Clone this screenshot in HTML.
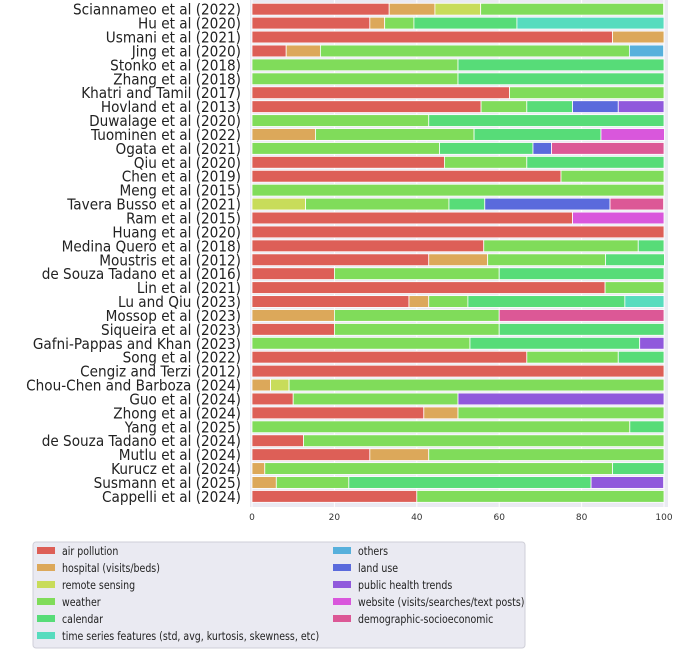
<!DOCTYPE html>
<html><head><meta charset="utf-8">
<style>
html,body{margin:0;padding:0;background:#fff;}
svg{display:block;font-family:"DejaVu Sans","Liberation Sans",sans-serif;}
</style></head>
<body>
<svg id="chart" width="685" height="649" viewBox="0 0 685 649">
<rect x="250" y="0" width="418" height="507" fill="#eaeaf2"/>
<g id="grid"></g><g id="bars"></g><g id="ylabels" transform="translate(241,0) scale(0.88,1) translate(-241,0)"></g><g id="xticks"></g>
<g id="legend">
<rect x="33" y="542" width="492" height="106" rx="3" fill="#eaeaf2" stroke="#cfcfd8" stroke-width="1"/>
</g>
</svg>
<script>
const studies = ["Sciannameo et al (2022)","Hu et al (2020)","Usmani et al (2021)","Jing et al (2020)","Stonko et al (2018)","Zhang et al (2018)","Khatri and Tamil (2017)","Hovland et al (2013)","Duwalage et al (2020)","Tuominen et al (2022)","Ogata et al (2021)","Qiu et al (2020)","Chen et al (2019)","Meng et al (2015)","Tavera Busso et al (2021)","Ram et al (2015)","Huang et al (2020)","Medina Quero et al (2018)","Moustris et al (2012)","de Souza Tadano et al (2016)","Lin et al (2021)","Lu and Qiu (2023)","Mossop et al (2023)","Siqueira et al (2023)","Gafni-Pappas and Khan (2023)","Song et al (2022)","Cengiz and Terzi (2012)","Chou-Chen and Barboza (2024)","Guo et al (2024)","Zhong et al (2024)","Yang et al (2025)","de Souza Tadano et al (2024)","Mutlu et al (2024)","Kurucz et al (2024)","Susmann et al (2025)","Cappelli et al (2024)"];
const categories = ["air pollution","hospital (visits/beds)","remote sensing","weather","calendar","time series features (std, avg, kurtosis, skewness, etc)","others","land use","public health trends","website (visits/searches/text posts)","demographic-socioeconomic"];
const colors = ["#dd5f57","#dca85a","#c8dc5a","#80dc5a","#57dc78","#57dcbe","#57b0dc","#5a6adc","#9059dc","#d957dc","#dc5896"];
const airPollution = [33.3,28.6,87.5,8.3,0,0,62.5,55.6,0,0,0,46.7,75,0,0,77.8,100,56.25,42.9,20,85.7,38.1,0,20,0,66.7,100,0,10,41.7,0,12.5,28.6,0,0,40];
const hospital = [11.1,3.6,12.5,8.3,0,0,0,0,0,15.4,0,0,0,0,0,0,0,0,14.3,0,0,4.8,20,0,0,0,0,4.5,0,8.3,0,0,14.3,3.1,5.9,0];
const remoteSensing = [11.1,0,0,0,0,0,0,0,0,0,0,0,0,0,13,0,0,0,0,0,0,0,0,0,0,0,0,4.5,0,0,0,0,0,0,0,0];
const weather = [44.4,7.1,0,75,50,50,37.5,11.1,42.9,38.5,45.5,20,25,100,34.8,0,0,37.5,28.6,40,14.3,9.5,40,40,52.9,22.2,0,91,40,50,91.7,87.5,57.1,84.4,17.6,60];
const calendar = [0,25,0,0,50,50,0,11.1,57.1,30.8,22.7,33.3,0,0,8.7,0,0,6.25,14.3,40,0,38.1,0,40,41.2,11.1,0,0,0,0,8.3,0,0,12.5,58.8,0];
const timeSeries = [0,35.7,0,0,0,0,0,0,0,0,0,0,0,0,0,0,0,0,0,0,0,9.5,0,0,0,0,0,0,0,0,0,0,0,0,0,0];
const others = [0,0,0,8.3,0,0,0,0,0,0,0,0,0,0,0,0,0,0,0,0,0,0,0,0,0,0,0,0,0,0,0,0,0,0,0,0];
const landUse = [0,0,0,0,0,0,0,11.1,0,0,4.5,0,0,0,30.4,0,0,0,0,0,0,0,0,0,0,0,0,0,0,0,0,0,0,0,0,0];
const publicHealth = [0,0,0,0,0,0,0,11.1,0,0,0,0,0,0,0,0,0,0,0,0,0,0,0,0,5.9,0,0,0,50,0,0,0,0,0,17.6,0];
const website = [0,0,0,0,0,0,0,0,0,15.4,0,0,0,0,0,22.2,0,0,0,0,0,0,0,0,0,0,0,0,0,0,0,0,0,0,0,0];
const demographic = [0,0,0,0,0,0,0,0,0,0,27.3,0,0,0,13,0,0,0,0,0,0,0,40,0,0,0,0,0,0,0,0,0,0,0,0,0];
const series = [airPollution,hospital,remoteSensing,weather,calendar,timeSeries,others,landUse,publicHealth,website,demographic];
const xTicks = [0,20,40,60,80,100];

const NS="http://www.w3.org/2000/svg";
const x0=252,x1=664,rowTop=3.3,pitch=13.92,barH=11.8;
const xs=v=>x0+(x1-x0)*v/100;
const ys=i=>rowTop+i*pitch;
function mk(tag,attrs,parent){const e=document.createElementNS(NS,tag);for(const k in attrs)e.setAttribute(k,attrs[k]);parent.appendChild(e);return e;}
const grid=document.getElementById('grid'),bars=document.getElementById('bars'),yl=document.getElementById('ylabels'),xt=document.getElementById('xticks'),lg=document.getElementById('legend');
xTicks.forEach(t=>{
  const l=mk('line',{x1:xs(t),x2:xs(t),y1:0,y2:507,stroke:'#fff','stroke-width':1},grid);
  
  
  const tx=mk('text',{x:xs(t),y:520,'font-size':9,'text-anchor':'middle',fill:'#333'},xt);
  tx.textContent=t;
  
  
});
studies.forEach((s,i)=>{
  let cum=0;
  series.forEach((arr,c)=>{
    const v=arr[i];
    if(v>0){
      const r=mk('rect',{x:xs(cum),y:ys(i),width:xs(cum+v)-xs(cum),height:barH,fill:colors[c],stroke:'#fff','stroke-width':0.8},bars);
      
      
    }
    cum+=v;
  });
  const t=mk('text',{x:241,y:ys(i)+barH/2+5.5,'font-size':15.5,'text-anchor':'end',fill:'#222'},yl);
  t.textContent=s;
  
  
});
categories.forEach((c,k)=>{
  const col=k<6?0:1,row=k<6?k:k-6;
  const px=col?333:37,py=547+row*17;
  const r=mk('rect',{x:px,y:py,width:18,height:7,fill:colors[k]},lg);
  
  
  const tx=px+25;
  const t=mk('text',{x:tx,y:py+8,'font-size':11.8,fill:'#222',transform:`translate(${tx},0) scale(0.8,1) translate(${-tx},0)`},lg);
  t.textContent=c;
  
  
});
</script>
</body></html>
